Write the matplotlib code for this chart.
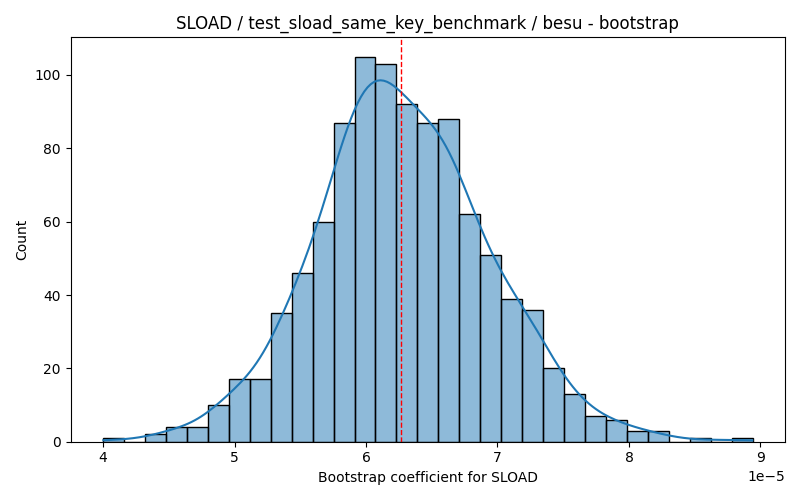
import matplotlib
matplotlib.use("Agg")
import matplotlib.pyplot as plt
import numpy as np
import pandas as pd
import seaborn as sns

# bootstrap histogram, 31 bins between 4.0e-5 and 8.94e-5
bin_lo = 4.0e-5
bin_hi = 8.94e-5
counts = [1, 0, 2, 4, 4, 10, 17, 17, 35, 46, 60, 87, 105, 103, 92, 87,
          88, 62, 51, 39, 36, 20, 13, 7, 6, 3, 3, 0, 1, 0, 1]
mean_coef = 6.266e-5

edges = np.linspace(bin_lo, bin_hi, len(counts) + 1)
centers = (edges[:-1] + edges[1:]) / 2
df = pd.DataFrame({"coef": centers, "n": counts})

# weighted kde uses effective n, scale bandwidth back to ~1000 samples
w = np.array(counts, dtype=float)
neff = w.sum() ** 2 / (w ** 2).sum()
bw_adj = (w.sum() ** -0.2) / (neff ** -0.2)

fig, ax = plt.subplots(figsize=(8, 5), dpi=100)
sns.histplot(data=df, x="coef", weights="n", bins=len(counts),
             binrange=(bin_lo, bin_hi), kde=True,
             kde_kws={"bw_adjust": bw_adj, "cut": 0.25}, ax=ax)
ax.axvline(mean_coef, color="red", linestyle="--", linewidth=1)
ax.set_title("SLOAD / test_sload_same_key_benchmark / besu - bootstrap")
ax.set_xlabel("Bootstrap coefficient for SLOAD")
ax.set_ylabel("Count")
plt.tight_layout()
plt.savefig("out.png")
